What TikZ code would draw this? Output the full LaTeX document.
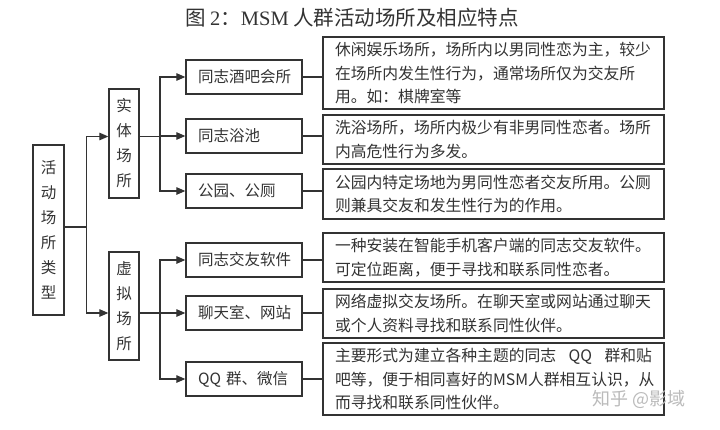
\documentclass[tikz,border=0pt]{standalone}
\usepackage{fontspec}
\setmainfont{Liberation Serif}
\newfontfamily\cjk{Noto Sans CJK SC}
\usetikzlibrary{arrows.meta}
\definecolor{ink}{HTML}{333333}
\definecolor{wm}{HTML}{BBBBBB}
\tikzset{
  box/.style={draw=ink, line width=1.3pt, inner sep=0pt, text=ink},
  vbox/.style={box, minimum width=31pt, align=center, font=\cjk\fontsize{15.5}{25}\selectfont},
  midbox/.style={box, minimum height=34pt, text width=92pt, inner xsep=12pt, align=left, font=\cjk\fontsize{15.5}{18}\selectfont},
  descbox/.style={box, text width=317pt, inner xsep=12pt, align=left, font=\cjk\fontsize{15.8}{23.5}\selectfont},
  conn/.style={draw=ink, line width=1.2pt},
  arr/.style={conn, -{Triangle[length=9pt,width=7.5pt]}}
}
\begin{document}
\begin{tikzpicture}[x=1pt,y=-1pt]
\useasboundingbox (0,0) rectangle (720,429);
\fill[white] (0,0) rectangle (720,429);

\node[text=ink, font=\cjk\fontsize{20.5}{22}\selectfont] (title) at (352,18) {图 {\rmfamily 2}：{\rmfamily MSM} 人群活动场所及相应特点};

\node[vbox, minimum height=170pt] (root) at (48.5,230) {活\\动\\场\\所\\类\\型};
\node[vbox, minimum width=30pt, minimum height=109pt] (real) at (124,143.5) {实\\体\\场\\所};
\node[vbox, minimum width=30pt, minimum height=108pt] (virt) at (124,306) {虚\\拟\\场\\所};

\node[midbox] (b1) at (244,77) {同志酒吧会所};
\node[midbox] (b2) at (244,136) {同志浴池};
\node[midbox] (b3) at (244,191) {公园、公厕};
\node[midbox] (b4) at (244,260) {同志交友软件};
\node[midbox] (b5) at (244,313) {聊天室、网站};
\node[midbox] (b6) at (244,379) {QQ 群、微信};

\node[descbox, minimum height=72pt] (d1) at (493.5,73) {休闲娱乐场所，场所内以男同性恋为主，较少\\在场所内发生性行为，通常场所仅为交友所\\用。如：棋牌室等};
\node[descbox, minimum height=49pt] (d2) at (493.5,139.5) {洗浴场所，场所内极少有非男同性恋者。场所\\内高危性行为多发。};
\node[descbox, minimum height=50pt] (d3) at (493.5,194) {公园内特定场地为男同性恋者交友所用。公厕\\则兼具交友和发生性行为的作用。};
\node[descbox, minimum height=49pt] (d4) at (493.5,257.5) {一种安装在智能手机客户端的同志交友软件。\\可定位距离，便于寻找和联系同性恋者。};
\node[descbox, minimum height=49pt] (d5) at (493.5,313.5) {网络虚拟交友场所。在聊天室或网站通过聊天\\或个人资料寻找和联系同性伙伴。};
\node[descbox, minimum height=72pt] (d6) at (493.5,379) {\hbox to 317pt{主要形式为建立各种主题的同志\hfil QQ\hfil 群和贴}\\吧等，便于相同喜好的MSM人群相互认识，从\\而寻找和联系同性伙伴。};

% root branch
\coordinate (j0) at (86.5,0);
\draw[conn] ([yshift=3pt]root.east) -- ([yshift=3pt]root.east -| j0);
\draw[arr] ([yshift=3pt]root.east -| j0) |- ([yshift=7pt]real.west);
\draw[arr] ([yshift=3pt]root.east -| j0) |- ([yshift=-7pt]virt.west);

% level 2 branches
\coordinate (j1) at (160,0);
\draw[conn] ([yshift=7pt]real.east) -- ([yshift=7pt]real.east -| j1);
\draw[arr] ([yshift=7pt]real.east -| j1) |- (b1.west);
\draw[arr] ([yshift=7pt]real.east -| j1) |- (b2.west);
\draw[arr] ([yshift=7pt]real.east -| j1) |- (b3.west);
\draw[conn] ([yshift=-7pt]virt.east) -- ([yshift=-7pt]virt.east -| j1);
\draw[arr] ([yshift=-7pt]virt.east -| j1) |- (b4.west);
\draw[arr] ([yshift=-7pt]virt.east -| j1) |- (b5.west);
\draw[arr] ([yshift=-7pt]virt.east -| j1) |- (b6.west);

% to descriptions
\foreach \i in {1,...,6}{
  \draw[conn] (b\i.east) -- (b\i.east -| d\i.west);
}

\node[text=wm, font=\cjk\fontsize{18}{20}\selectfont, anchor=west] (wmark) at (589,399) {知乎 @影域};
\end{tikzpicture}
\end{document}
